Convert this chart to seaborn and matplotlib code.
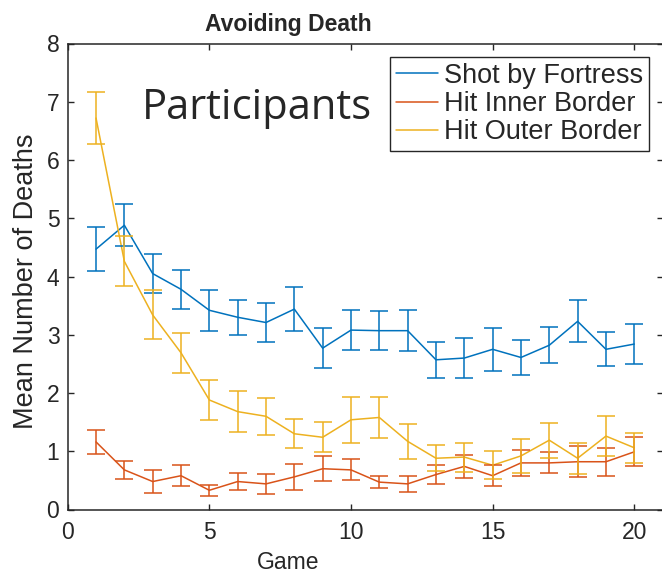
import numpy as np
import pandas as pd
import matplotlib
matplotlib.use('Agg')
import matplotlib.pyplot as plt
import seaborn as sns

games = list(range(1, 21))

shot_mean = [4.47, 4.88, 4.05, 3.78, 3.42, 3.30, 3.21, 3.44, 2.77, 3.08,
             3.07, 3.07, 2.57, 2.60, 2.75, 2.61, 2.82, 3.23, 2.75, 2.84]
shot_err = [0.38, 0.36, 0.33, 0.34, 0.35, 0.30, 0.33, 0.38, 0.34, 0.35,
            0.34, 0.35, 0.31, 0.34, 0.37, 0.30, 0.31, 0.36, 0.29, 0.35]

inner_mean = [1.16, 0.68, 0.48, 0.58, 0.33, 0.48, 0.44, 0.56, 0.70, 0.68,
              0.47, 0.44, 0.60, 0.74, 0.58, 0.80, 0.80, 0.82, 0.82, 0.99]
inner_err = [0.21, 0.15, 0.20, 0.18, 0.09, 0.15, 0.17, 0.22, 0.21, 0.18,
             0.10, 0.14, 0.16, 0.20, 0.18, 0.23, 0.18, 0.27, 0.24, 0.25]

outer_mean = [6.72, 4.26, 3.34, 2.69, 1.88, 1.68, 1.60, 1.30, 1.24, 1.54,
              1.58, 1.17, 0.88, 0.90, 0.76, 0.92, 1.19, 0.88, 1.26, 1.06]
outer_err = [0.44, 0.43, 0.42, 0.34, 0.34, 0.35, 0.32, 0.25, 0.26, 0.39,
             0.35, 0.30, 0.22, 0.25, 0.24, 0.29, 0.30, 0.27, 0.35, 0.26]

series = ['Shot by Fortress', 'Hit Inner Border', 'Hit Outer Border']
colors = ['#0072BD', '#D95319', '#EDB120']

df = pd.DataFrame({
    'Game': games * 3,
    'Deaths': shot_mean + inner_mean + outer_mean,
    'err': shot_err + inner_err + outer_err,
    'Cause': np.repeat(series, len(games)),
})

sns.set_style('ticks')
plt.rcParams['font.family'] = ['Liberation Sans', 'DejaVu Sans']
ink = '#262626'

fig = plt.figure(figsize=(6.62, 5.78), dpi=100)
ax = fig.add_axes([67.7 / 662, (578 - 509.5) / 578, 594.9 / 662, 466 / 578])

sns.lineplot(data=df, x='Game', y='Deaths', hue='Cause', hue_order=series,
             palette=colors, linewidth=1.1, ax=ax, legend=True)
for name, c in zip(series, colors):
    d = df[df['Cause'] == name]
    ax.errorbar(d['Game'], d['Deaths'], yerr=d['err'], fmt='none',
                ecolor=c, elinewidth=1.1, capsize=6.5, capthick=1.1)

ax.set_xlim(0, 21)
ax.set_ylim(0, 8)
ax.set_xticks([0, 5, 10, 15, 20])
ax.set_yticks(range(0, 9))
ax.tick_params(direction='in', length=4.5, width=1, colors=ink,
               labelsize=16.5, top=True, right=True)
ax.tick_params(axis='x', pad=8)
ax.tick_params(axis='y', pad=6)
for s in ax.spines.values():
    s.set_visible(True)
    s.set_color(ink)
    s.set_linewidth(1.1)

ax.set_title('Avoiding Death', fontsize=16.5, fontweight='bold', x=0.37, pad=9)
ax.set_xlabel('Game', fontsize=16.5, color=ink)
ax.xaxis.set_label_coords(0.37, -0.089)
ax.set_ylabel('Mean Number of Deaths', fontsize=19.5, color=ink)
ax.yaxis.set_label_coords(-0.048, 0.49)

ax.text(2.61, 6.70, 'Participants', fontsize=30, family='Open Sans',
        va='baseline', ha='left')

handles, labels = ax.get_legend_handles_labels()
leg = ax.legend(handles[:3], labels[:3], loc='upper right',
                bbox_to_anchor=(0.977, 0.971), borderaxespad=0,
                prop={'size': 19.5},
                handlelength=1.55, handletextpad=0.2, labelspacing=0.08,
                borderpad=0.22, fancybox=False, framealpha=1,
                edgecolor=ink)
leg.get_frame().set_linewidth(1.0)

plt.savefig('out.png', dpi=100)
